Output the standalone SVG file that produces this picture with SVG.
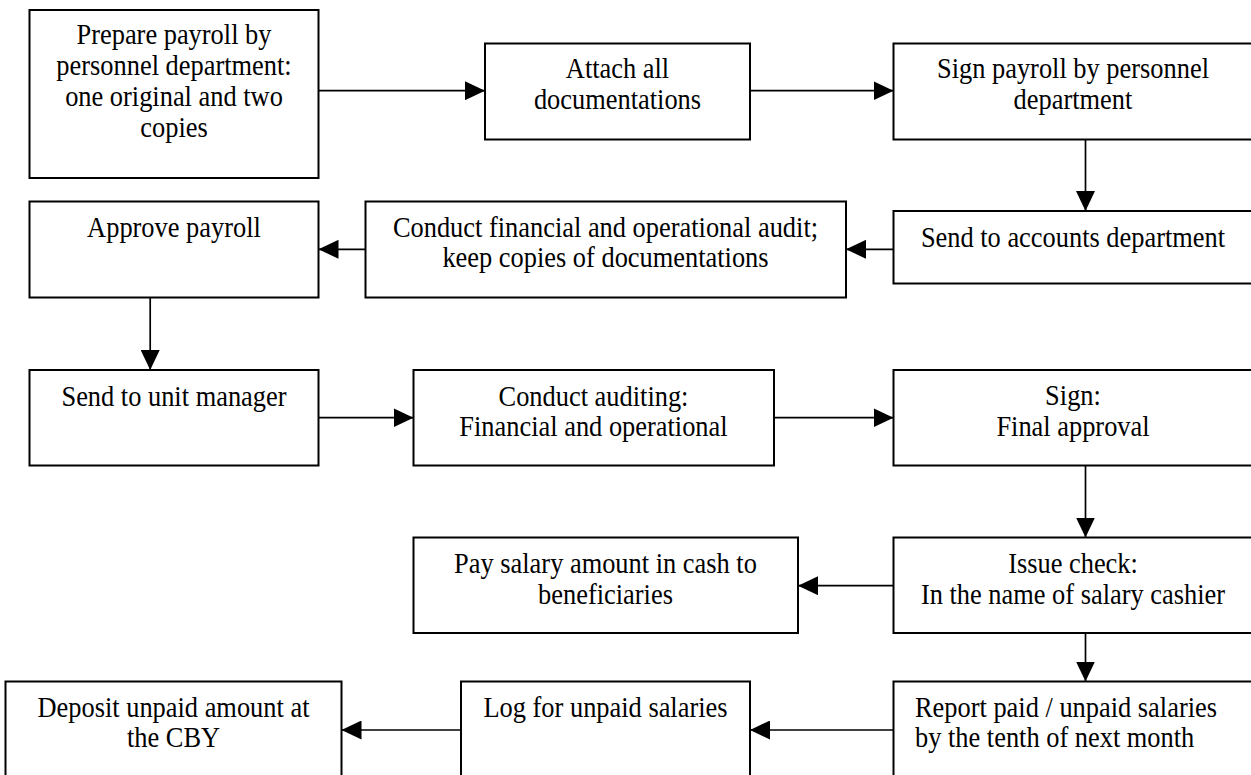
<svg xmlns="http://www.w3.org/2000/svg" width="1251" height="775" viewBox="0 0 1251 775">
<defs>
<style>
.box rect{fill:#fff;stroke:#000;stroke-width:2}
text{font-family:"Liberation Serif","Times New Roman",serif;font-size:26.4px;fill:#000}
.c{text-anchor:middle}
.conn line{stroke:#000;stroke-width:1.7}
</style>
<marker id="ah" viewBox="0 0 20 19" refX="20" refY="9.5" markerWidth="20" markerHeight="19" markerUnits="userSpaceOnUse" orient="auto">
<path d="M0,0 L20,9.5 L0,19 Z" fill="#000"/>
</marker>
</defs>
<rect width="1251" height="775" fill="#fff"/>
<g id="n1" class="box"><rect x="29.5" y="10" width="289" height="168"/>
<text class="c" x="174" transform="translate(0,44) scale(1,1.09)">Prepare payroll by</text>
<text class="c" x="174" transform="translate(0,75) scale(1,1.09)">personnel department:</text>
<text class="c" x="174" transform="translate(0,106) scale(1,1.09)">one original and two</text>
<text class="c" x="174" transform="translate(0,137) scale(1,1.09)">copies</text></g>
<g id="n2" class="box"><rect x="485" y="43.5" width="265" height="96"/>
<text class="c" x="617.5" transform="translate(0,78) scale(1,1.09)">Attach all</text>
<text class="c" x="617.5" transform="translate(0,109) scale(1,1.09)">documentations</text></g>
<g id="n3" class="box"><rect x="893.5" y="43.5" width="362" height="96"/>
<text class="c" x="1073" transform="translate(0,78) scale(1,1.09)">Sign payroll by personnel</text>
<text class="c" x="1073" transform="translate(0,109) scale(1,1.09)">department</text></g>
<g id="n4" class="box"><rect x="893.5" y="211" width="362" height="72.5"/>
<text class="c" x="1073" transform="translate(0,247) scale(1,1.09)">Send to accounts department</text></g>
<g id="n5" class="box"><rect x="365.5" y="201.5" width="480.5" height="96"/>
<text class="c" x="605.5" transform="translate(0,237) scale(1,1.09)">Conduct financial and operational audit;</text>
<text class="c" x="605.5" transform="translate(0,267) scale(1,1.09)">keep copies of documentations</text></g>
<g id="n6" class="box"><rect x="29.5" y="201.5" width="289" height="96"/>
<text class="c" x="174" transform="translate(0,237) scale(1,1.09)">Approve payroll</text></g>
<g id="n7" class="box"><rect x="29.5" y="370" width="289" height="95.5"/>
<text class="c" x="174" transform="translate(0,406) scale(1,1.09)">Send to unit manager</text></g>
<g id="n8" class="box"><rect x="413.5" y="370" width="360.5" height="95.5"/>
<text class="c" x="593.5" transform="translate(0,406) scale(1,1.09)">Conduct auditing:</text>
<text class="c" x="593.5" transform="translate(0,436) scale(1,1.09)">Financial and operational</text></g>
<g id="n9" class="box"><rect x="893.5" y="370" width="362" height="95.5"/>
<text class="c" x="1073" transform="translate(0,405) scale(1,1.09)">Sign:</text>
<text class="c" x="1073" transform="translate(0,436) scale(1,1.09)">Final approval</text></g>
<g id="n10" class="box"><rect x="893.5" y="537.5" width="362" height="95.5"/>
<text class="c" x="1073" transform="translate(0,573) scale(1,1.09)">Issue check:</text>
<text class="c" x="1073" transform="translate(0,604) scale(1,1.09)">In the name of salary cashier</text></g>
<g id="n11" class="box"><rect x="413.5" y="537.5" width="384.5" height="95.5"/>
<text class="c" x="605.5" transform="translate(0,573) scale(1,1.09)">Pay salary amount in cash to</text>
<text class="c" x="605.5" transform="translate(0,604) scale(1,1.09)">beneficiaries</text></g>
<g id="n12" class="box"><rect x="893.5" y="681.5" width="362" height="110"/>
<text x="915" transform="translate(0,717) scale(1,1.09)">Report paid / unpaid salaries</text>
<text x="915" transform="translate(0,747) scale(1,1.09)">by the tenth of next month</text></g>
<g id="n13" class="box"><rect x="461" y="681.5" width="289" height="110"/>
<text class="c" x="605.5" transform="translate(0,717) scale(1,1.09)">Log for unpaid salaries</text></g>
<g id="n14" class="box"><rect x="5.5" y="681.5" width="336" height="110"/>
<text class="c" x="173.5" transform="translate(0,717) scale(1,1.09)">Deposit unpaid amount at</text>
<text class="c" x="173.5" transform="translate(0,747) scale(1,1.09)">the CBY</text></g>
<g id="connectors" class="conn">
<line x1="318.5" y1="90.7" x2="485" y2="90.7" marker-end="url(#ah)"/>
<line x1="750" y1="90.7" x2="893.5" y2="90.7" marker-end="url(#ah)"/>
<line x1="1085.5" y1="139.5" x2="1085.5" y2="211" marker-end="url(#ah)"/>
<line x1="893.5" y1="249.3" x2="846" y2="249.3" marker-end="url(#ah)"/>
<line x1="365.5" y1="249.3" x2="318.5" y2="249.3" marker-end="url(#ah)"/>
<line x1="150.2" y1="297.5" x2="150.2" y2="370" marker-end="url(#ah)"/>
<line x1="318.5" y1="417.7" x2="413.5" y2="417.7" marker-end="url(#ah)"/>
<line x1="774" y1="417.7" x2="893.5" y2="417.7" marker-end="url(#ah)"/>
<line x1="1085.5" y1="465.5" x2="1085.5" y2="537.5" marker-end="url(#ah)"/>
<line x1="893.5" y1="585.7" x2="798" y2="585.7" marker-end="url(#ah)"/>
<line x1="1085.5" y1="633" x2="1085.5" y2="681.5" marker-end="url(#ah)"/>
<line x1="893.5" y1="730" x2="750" y2="730" marker-end="url(#ah)"/>
<line x1="461" y1="730" x2="341.5" y2="730" marker-end="url(#ah)"/>
</g>
</svg>
